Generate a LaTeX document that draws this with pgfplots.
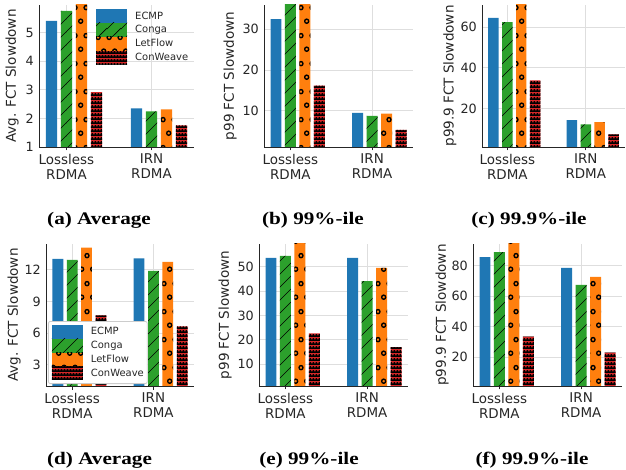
\documentclass[border=0pt]{standalone}
\usepackage{fontspec}
\setmainfont{DejaVu Sans}
\newfontfamily\capfont[FakeStretch=1.2]{Liberation Serif}
\usepackage{pgfplots}
\pgfplotsset{compat=1.18}
\usepackage{pgfplotstable}
\usetikzlibrary{patterns,patterns.meta}

\definecolor{cEC}{HTML}{1F77B4}
\definecolor{cCG}{HTML}{2CA02C}
\definecolor{cLF}{HTML}{FF7F0E}
\definecolor{cCW}{HTML}{D62728}
\definecolor{txt}{HTML}{262626}

\pgfdeclarepattern{
  name=pCG, type=uncolored,
  bottom left={\pgfpoint{0bp}{0bp}}, top right={\pgfpoint{13.4bp}{13.4bp}},
  tile size={\pgfpoint{13.4bp}{13.4bp}},
  code={
    \pgfsetlinewidth{0.6bp}
    \pgfpathmoveto{\pgfpoint{-1bp}{-1bp}}\pgfpathlineto{\pgfpoint{14.4bp}{14.4bp}}
    \pgfpathmoveto{\pgfpoint{12.4bp}{-1bp}}\pgfpathlineto{\pgfpoint{14.4bp}{1bp}}
    \pgfpathmoveto{\pgfpoint{-1bp}{12.4bp}}\pgfpathlineto{\pgfpoint{1bp}{14.4bp}}
    \pgfusepath{stroke}
  }
}
\pgfdeclarepattern{
  name=pLF, type=uncolored,
  bottom left={\pgfpoint{0bp}{0bp}}, top right={\pgfpoint{11.3bp}{27.5bp}},
  tile size={\pgfpoint{11.3bp}{27.5bp}},
  code={
    \pgfsetlinewidth{1.4bp}
    \pgfpathcircle{\pgfpoint{2.825bp}{6.875bp}}{2.1bp}
    \pgfpathcircle{\pgfpoint{8.475bp}{20.625bp}}{2.1bp}
    \pgfusepath{stroke}
  }
}
\pgfdeclarepattern{
  name=pCW, type=uncolored,
  bottom left={\pgfpoint{0bp}{0bp}}, top right={\pgfpoint{3.4bp}{4.3bp}},
  tile size={\pgfpoint{3.4bp}{4.3bp}},
  code={
    \pgfpathrectangle{\pgfpointorigin}{\pgfpoint{3.4bp}{1.8bp}}
    \pgfpathrectangle{\pgfpoint{0.8bp}{1.8bp}}{\pgfpoint{1.8bp}{1.4bp}}
    \pgfusepath{fill}
  }
}

\pgfplotstableread{
x ecmp conga letflow conweave
0 5.41 5.76 6.5 2.92
1 2.35 2.25 2.32 1.76
}\tabA
\pgfplotstableread{
x ecmp conga letflow conweave
0 32.5 40 40 16.1
1 9.4 8.7 9.2 5.25
}\tabB
\pgfplotstableread{
x ecmp conga letflow conweave
0 64.6 62.6 78 33.9
1 14.2 12.2 13.2 7.2
}\tabC
\pgfplotstableread{
x ecmp conga letflow conweave
0 13.04 12.95 14.1 7.7
1 13.1 11.9 12.75 6.65
}\tabD
\pgfplotstableread{
x ecmp conga letflow conweave
0 53.6 54.4 62 22.6
1 53.6 44.1 49.5 17.0
}\tabE
\pgfplotstableread{
x ecmp conga letflow conweave
0 85.4 88.7 98 33.3
1 78.3 67.2 72.4 22.8
}\tabF

\pgfplotsset{
  ecmpst/.style={fill=cEC, draw=none, bar shift=-0.177},
  congast/.style={fill=cCG, draw=none, bar shift=0, postaction={pattern=pCG, pattern color=black}},
  letst/.style={fill=cLF, draw=none, bar shift=0.177, postaction={pattern=pLF, pattern color=black}},
  cwst/.style={fill=cCW, draw=none, bar shift=0.354, postaction={pattern=pCW, pattern color=black}},
  mybase/.style={
    scale only axis, height=142bp,
    ybar, bar width=0.133,
    xmin=-0.323, xmax=1.5, ymin=1,
    xtick={0,1}, xticklabels={{Lossless\\RDMA},{IRN\\RDMA}},
    axis x line*=bottom, axis y line*=left,
    axis line style={-, line width=0.9bp, draw=txt},
    grid=major, major grid style={line width=0.8bp, draw=black!13},
    tick align=outside, major tick length=3.5bp,
    xtick style={draw=txt, line width=0.8bp},
    ytick style={draw=none},
    xticklabel style={align=center, font=\fontsize{13.5}{15}\selectfont, text=txt},
    yticklabel style={font=\fontsize{12.8}{14}\selectfont, text=txt, inner sep=1.5bp},
    ylabel style={font=\fontsize{13.6}{15}\selectfont, text=txt, anchor=center},
    /pgf/number format/assume math mode=true,
    legend cell align=left,
    legend image code/.code={\draw[#1, draw=none, sharp corners] (0bp,-6.9bp) rectangle (31bp,6.9bp);},
  },
}

\begin{document}
\begin{tikzpicture}
\path[use as bounding box] (0,0) rectangle (626bp,470bp);

% (a)
\begin{axis}[mybase, at={(39bp,323bp)}, anchor=south west, width=155bp,
  ymax=5.97, ytick={1,2,3,4,5},
  ylabel={Avg. FCT Slowdown}, ylabel style={at={(axis description cs:-0.174,0.5)}},
  legend style={at={(0.368,0.972)}, anchor=north west, draw=none, fill=none,
    inner sep=0pt, row sep=0pt, column sep=8bp,
    nodes={inner sep=0pt, font=\fontsize{10}{12}\selectfont, text=txt, minimum height=13.8bp}}]
\addplot[ecmpst] table[x=x,y=ecmp]{\tabA};
\addplot[congast] table[x=x,y=conga]{\tabA};
\addplot[letst] table[x=x,y=letflow]{\tabA};
\addplot[cwst] table[x=x,y=conweave]{\tabA};
\legend{ECMP,Conga,LetFlow,ConWeave}
\end{axis}

% (b)
\begin{axis}[mybase, at={(264bp,323bp)}, anchor=south west, width=149bp,
  ymax=36, ytick={10,20,30},
  ylabel={p99 FCT Slowdown}, ylabel style={at={(axis description cs:-0.228,0.5)}}]
\addplot[ecmpst] table[x=x,y=ecmp]{\tabB};
\addplot[congast] table[x=x,y=conga]{\tabB};
\addplot[letst] table[x=x,y=letflow]{\tabB};
\addplot[cwst] table[x=x,y=conweave]{\tabB};
\end{axis}

% (c)
\begin{axis}[mybase, at={(482bp,323bp)}, anchor=south west, width=143bp,
  ymax=71, ytick={20,40,60},
  ylabel={p99.9 FCT Slowdown}, ylabel style={at={(axis description cs:-0.224,0.5)}}]
\addplot[ecmpst] table[x=x,y=ecmp]{\tabC};
\addplot[congast] table[x=x,y=conga]{\tabC};
\addplot[letst] table[x=x,y=letflow]{\tabC};
\addplot[cwst] table[x=x,y=conweave]{\tabC};
\end{axis}

% (d)
\begin{axis}[mybase, at={(46bp,84bp)}, anchor=south west, width=148bp,
  ymax=14.45, ytick={3,6,9,12},
  ylabel={Avg. FCT Slowdown}, ylabel style={at={(axis description cs:-0.216,0.5)}},
  legend style={at={(0.0135,0.014)}, anchor=south west, draw=black!20, line width=0.8bp, fill=white,
    rounded corners=2bp, inner sep=3.5bp, row sep=0pt, column sep=8bp,
    nodes={inner sep=0pt, font=\fontsize{10}{12}\selectfont, text=txt, minimum height=13.8bp}}]
\addplot[ecmpst] table[x=x,y=ecmp]{\tabD};
\addplot[congast] table[x=x,y=conga]{\tabD};
\addplot[letst] table[x=x,y=letflow]{\tabD};
\addplot[cwst] table[x=x,y=conweave]{\tabD};
\legend{ECMP,Conga,LetFlow,ConWeave}
\end{axis}

% (e)
\begin{axis}[mybase, at={(259bp,84bp)}, anchor=south west, width=149bp,
  ymax=59.3, ytick={10,20,30,40,50},
  ylabel={p99 FCT Slowdown}, ylabel style={at={(axis description cs:-0.228,0.5)}}]
\addplot[ecmpst] table[x=x,y=ecmp]{\tabE};
\addplot[congast] table[x=x,y=conga]{\tabE};
\addplot[letst] table[x=x,y=letflow]{\tabE};
\addplot[cwst] table[x=x,y=conweave]{\tabE};
\end{axis}

% (f)
\begin{axis}[mybase, at={(473bp,84bp)}, anchor=south west, width=149bp,
  ymax=94, ytick={20,40,60,80},
  ylabel={p99.9 FCT Slowdown}, ylabel style={at={(axis description cs:-0.208,0.5)}}]
\addplot[ecmpst] table[x=x,y=ecmp]{\tabF};
\addplot[congast] table[x=x,y=conga]{\tabF};
\addplot[letst] table[x=x,y=letflow]{\tabF};
\addplot[cwst] table[x=x,y=conweave]{\tabF};
\end{axis}

\tikzset{mycap/.style={anchor=base, font=\capfont\bfseries\fontsize{17.7}{20}\selectfont}}
\node[mycap] at (99bp,245bp) {(a) Average};
\node[mycap] at (313bp,245bp) {(b) 99\%-ile};
\node[mycap] at (529bp,245bp) {(c) 99.9\%-ile};
\node[mycap] at (99.5bp,5.5bp) {(d) Average};
\node[mycap] at (309bp,5.5bp) {(e) 99\%-ile};
\node[mycap] at (532bp,5.5bp) {(f) 99.9\%-ile};
\end{tikzpicture}
\end{document}
